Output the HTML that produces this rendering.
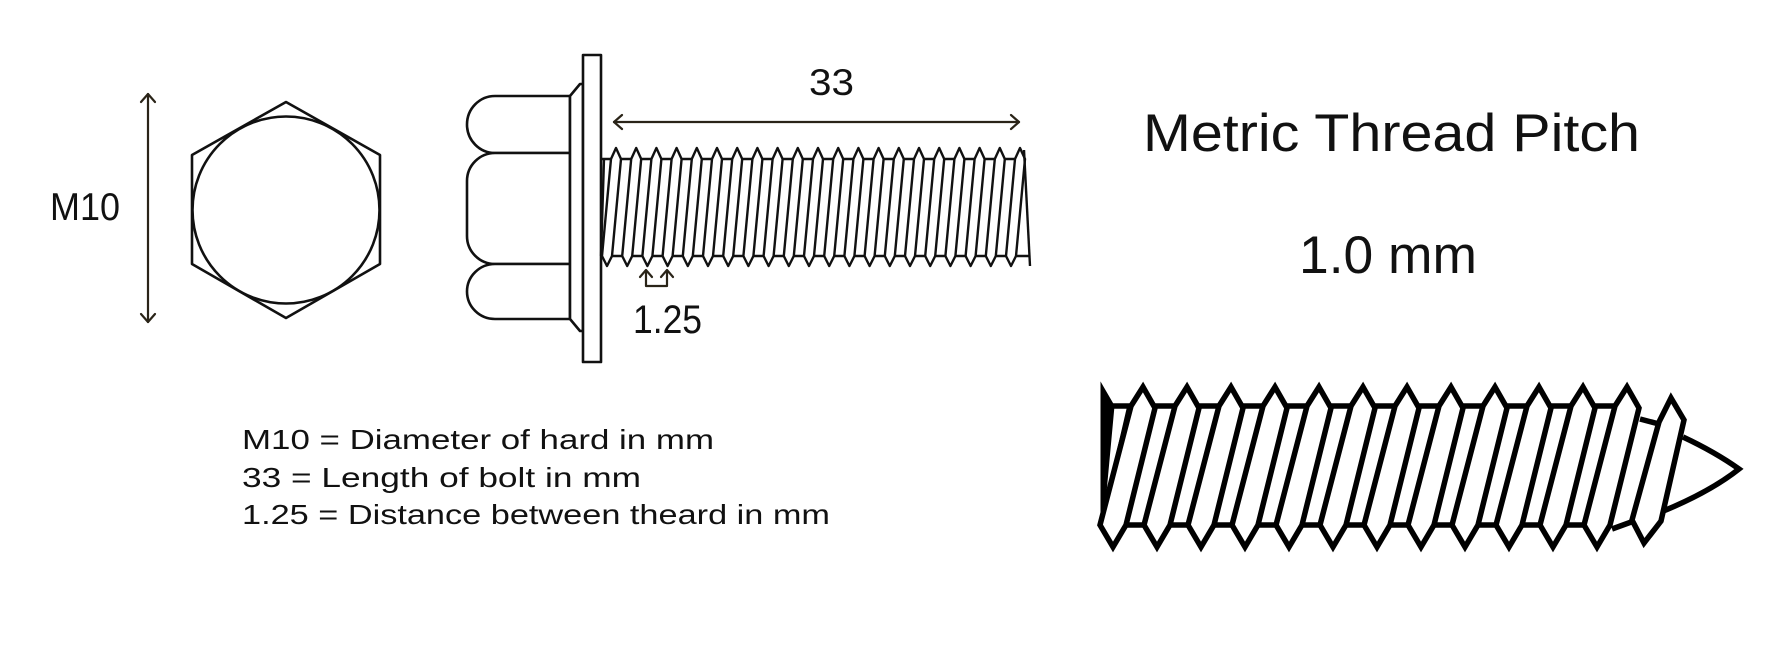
<!DOCTYPE html>
<html><head><meta charset="utf-8"><style>
html,body{margin:0;padding:0;background:#fff;width:1769px;height:648px;overflow:hidden}
svg{display:block}
text{font-family:"Liberation Sans",sans-serif;fill:#111}
</style></head><body>
<svg id="s" width="1769" height="648" viewBox="0 0 1769 648" xmlns="http://www.w3.org/2000/svg">
<g fill="none" stroke="#111" stroke-width="2.6" stroke-linejoin="round">
 <polygon points="286,102 380,155 380,264 286,318 192,264 192,155"/>
 <circle cx="286" cy="210" r="93.5"/>
</g>
<g fill="none" stroke="#2a2418" stroke-width="2.2" stroke-linecap="round" stroke-linejoin="round">
 <line x1="148" y1="94" x2="148" y2="322"/>
 <polyline points="141,102 148,94 155,102"/>
 <polyline points="141,314 148,322 155,314"/>
 <line x1="614" y1="122" x2="1019" y2="122"/>
 <polyline points="622,115 614,122 622,129"/>
 <polyline points="1011,115 1019,122 1011,129"/>
 <polyline points="646,271 646,286 667,286 667,271"/>
 <polyline points="640,277 646,270 652,277"/>
 <polyline points="661,277 667,270 673,277"/>
</g>
<g fill="#fff" stroke="#111" stroke-width="2.6" stroke-linejoin="round">
 <path d="M570,96 L495,96 A28,28.5 0 0 0 495,153 L570,153"/>
 <path d="M570,153 L495,153 A28,28 0 0 0 467,181 L467,236 A28,28 0 0 0 495,264 L570,264"/>
 <path d="M570,264 L495,264 A28,27.5 0 0 0 495,319 L570,319"/>
 <line x1="570" y1="96" x2="570" y2="319"/>
 <polygon points="570,96 580,84 583,84 583,331 580,331 570,319"/>
 <rect x="583" y="55" width="18" height="307"/>
</g>
<g id="bolt" fill="#fff" stroke="#111" stroke-width="2.4" stroke-linejoin="round"></g>
<g id="screw" fill="#fff" stroke="#000" stroke-width="5.5" stroke-linejoin="miter" stroke-miterlimit="4"></g>
<text x="50" y="220" font-size="39" textLength="70" lengthAdjust="spacingAndGlyphs">M10</text>
<text x="809" y="95" font-size="37" textLength="45" lengthAdjust="spacingAndGlyphs">33</text>
<text x="633" y="333" font-size="40" textLength="69" lengthAdjust="spacingAndGlyphs">1.25</text>
<text x="242" y="449" font-size="28" textLength="472" lengthAdjust="spacingAndGlyphs">M10 = Diameter of hard in mm</text>
<text x="242" y="487" font-size="28" textLength="399" lengthAdjust="spacingAndGlyphs">33 = Length of bolt in mm</text>
<text x="242" y="524" font-size="28" textLength="588" lengthAdjust="spacingAndGlyphs">1.25 = Distance between theard in mm</text>
<text x="1143" y="151" font-size="53" textLength="497" lengthAdjust="spacingAndGlyphs">Metric Thread Pitch</text>
<text x="1299" y="273" font-size="53" textLength="178" lengthAdjust="spacingAndGlyphs">1.0 mm</text>
</svg>
<script>
var NS="http://www.w3.org/2000/svg";
function el(p,t,a){var e=document.createElementNS(NS,t);for(var k in a)e.setAttribute(k,a[k]);p.appendChild(e);return e;}
var b=document.getElementById("bolt");
el(b,"line",{x1:601,y1:159,x2:1024,y2:159});
el(b,"line",{x1:601,y1:256,x2:1029,y2:256});
el(b,"line",{x1:604,y1:159,x2:601,y2:256});
for(var i=0;i<21;i++){var T=616+i*20.2;
 el(b,"polygon",{points:[(T-5)+",159",T+",148",(T+5)+",159",(T-4)+",256",(T-9)+",266",(T-14)+",256"].join(" ")});}
el(b,"line",{x1:1024,y1:150,x2:1030,y2:266});
var s=document.getElementById("screw");
el(s,"line",{x1:1102,y1:406,x2:1620,y2:406});
el(s,"line",{x1:1102,y1:525,x2:1612,y2:525});
el(s,"polygon",{points:"1102,387 1113,406 1102,525",fill:"#000","stroke-width":3});
el(s,"line",{x1:1102,y1:527,x2:1130,y2:406});
el(s,"path",{d:"M1683,437 Q1715,452 1739,469 Q1710,492 1661,512",fill:"none"});
el(s,"polyline",{points:"1640,419 1659,424",fill:"none"});
el(s,"polyline",{points:"1612,529 1634,521",fill:"none"});
for(var i=0;i<12;i++){var T=1143+i*44;
 el(s,"polygon",{points:[(T-12)+",406",T+",387",(T+12)+",408",(T-17)+",525",(T-30)+",547",(T-43)+",525"].join(" ")});}
el(s,"polygon",{points:"1659,422 1671,398 1684,420 1661,521 1644,543 1632,520"});
</script>
</body></html>
